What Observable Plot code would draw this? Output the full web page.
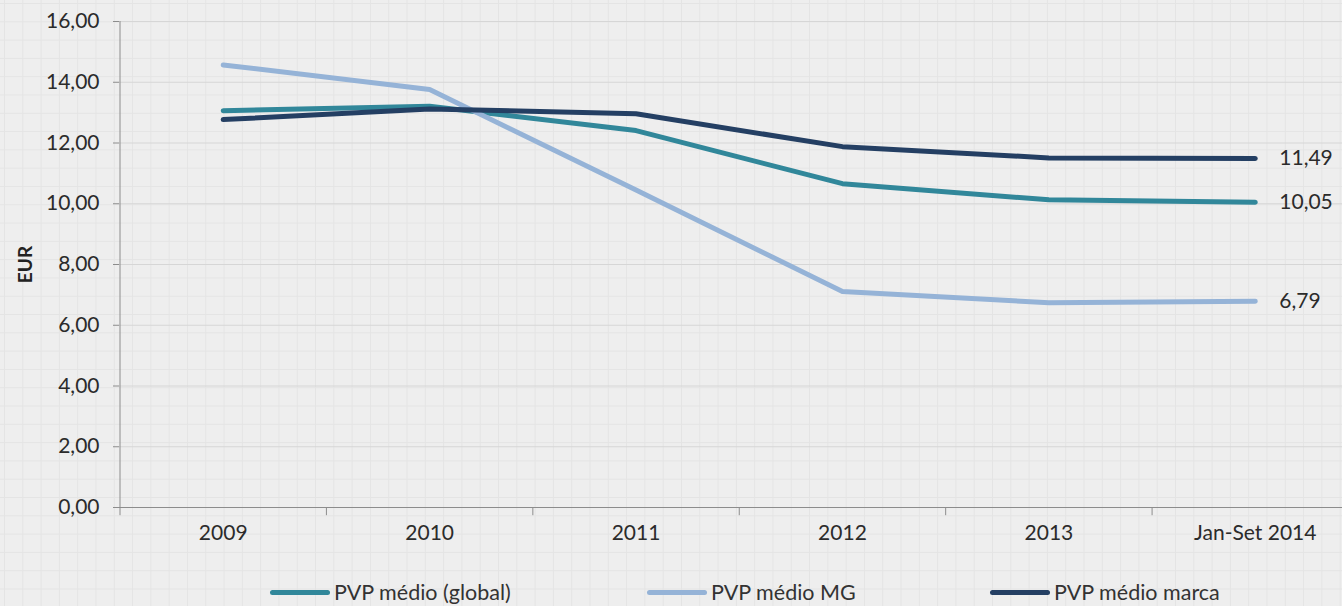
<!DOCTYPE html>
<html><head><meta charset="utf-8">
<script src="https://cdn.jsdelivr.net/npm/d3@7"></script>
<script src="https://cdn.jsdelivr.net/npm/@observablehq/plot@0.6"></script>
<style>
html,body{margin:0;padding:0;}
body{width:1342px;height:606px;overflow:hidden;position:relative;background-color:#eeeeee;
background-image:linear-gradient(to right,#e4e4e4 1px,transparent 1px),linear-gradient(to bottom,#e4e4e4 1px,transparent 1px);
background-size:18.3px 18.3px;background-position:4px 3px;font-family:Lato,sans-serif;}
#chart{position:absolute;left:0;top:0;}
#legend{position:absolute;left:0;top:578px;width:1342px;height:28px;}
.item{position:absolute;top:0;display:flex;align-items:center;height:28px;font-size:21.5px;color:#333;white-space:nowrap;}
.sw{width:60px;height:5px;border-radius:3px;margin-right:4px;}
</style></head><body>
<div id="chart"></div><div id="legend"></div>
<script>
const categories = ["2009", "2010", "2011", "2012", "2013", "Jan-Set 2014"];
const seriesNames = ["PVP médio (global)", "PVP médio MG", "PVP médio marca"];
const globalValues = [13.06, 13.21, 12.41, 10.66, 10.13, 10.05];
const mgValues = [14.57, 13.76, 10.45, 7.11, 6.74, 6.79];
const marcaValues = [12.77, 13.12, 12.96, 11.88, 11.51, 11.49];
const endLabels = ["10,05", "6,79", "11,49"];
const yTicks = [0, 2, 4, 6, 8, 10, 12, 14, 16];
const colors = ["#31879a", "#95b3d7", "#243f63"];

const allValues = [globalValues, mgValues, marcaValues];
const rows = [];
seriesNames.forEach((s, si) => allValues[si].forEach((v, i) => rows.push({series: s, idx: i, value: v})));
const ends = seriesNames.map((s, si) => ({series: s, idx: categories.length - 1, value: allValues[si][categories.length - 1], label: endLabels[si]}));
const fmt = d => d.toFixed(2).replace(".", ",");
const bounds = d3.range(categories.length).map(i => i - 0.5);

const chart = Plot.plot({
  width: 1342,
  height: 570,
  marginLeft: 119,
  marginTop: 21,
  marginBottom: 63,
  marginRight: 0,
  style: {background: "transparent", fontFamily: "Lato, sans-serif", fontSize: "21px", color: "#333"},
  x: {type: "linear", domain: [-0.5, 5.5], range: [119.5, 1358]},
  y: {domain: [0, 16], range: [507, 21]},
  color: {domain: seriesNames, range: colors},
  marks: [
    Plot.gridY(yTicks, {stroke: "#d6d6d6", strokeOpacity: 1}),
    Plot.ruleX([-0.5], {y1: 0, y2: 16, stroke: "#8c8c8c"}),
    Plot.ruleY([0], {x1: -0.53, x2: 6, stroke: "#8c8c8c"}),
    Plot.ruleX(bounds, {y1: 0, y2: -0.27, stroke: "#8c8c8c"}),
    Plot.axisY(yTicks, {tickFormat: fmt, tickSize: 6, tickPadding: 14, stroke: "#8c8c8c", fontSize: 21, fill: "#2b2b2b", label: null}),
    Plot.axisX(d3.range(categories.length), {tickFormat: i => categories[i], tickSize: 0, tickPadding: 18, fontSize: 21, fill: "#2b2b2b", label: null}),
    Plot.text(["EUR"], {x: -0.5, y: 8, dx: -94, rotate: -90, fontWeight: "bold", fontSize: 19, fill: "#222"}),
    Plot.line(rows, {x: "idx", y: "value", z: "series", stroke: "series", strokeWidth: 5, strokeLinecap: "round", strokeLinejoin: "round"}),
    Plot.text(ends, {x: "idx", y: "value", text: "label", dx: 24, textAnchor: "start", fontSize: 21, fill: "#2b2b2b"})
  ]
});
document.getElementById("chart").appendChild(chart);

const legendLefts = [270, 647, 990];
const legend = document.getElementById("legend");
seriesNames.forEach((s, i) => {
  const item = document.createElement("div");
  item.className = "item";
  item.style.left = legendLefts[i] + "px";
  const sw = document.createElement("div");
  sw.className = "sw";
  sw.style.background = colors[i];
  item.appendChild(sw);
  const t = document.createElement("span");
  t.textContent = s;
  item.appendChild(t);
  legend.appendChild(item);
});
</script>
</body></html>
